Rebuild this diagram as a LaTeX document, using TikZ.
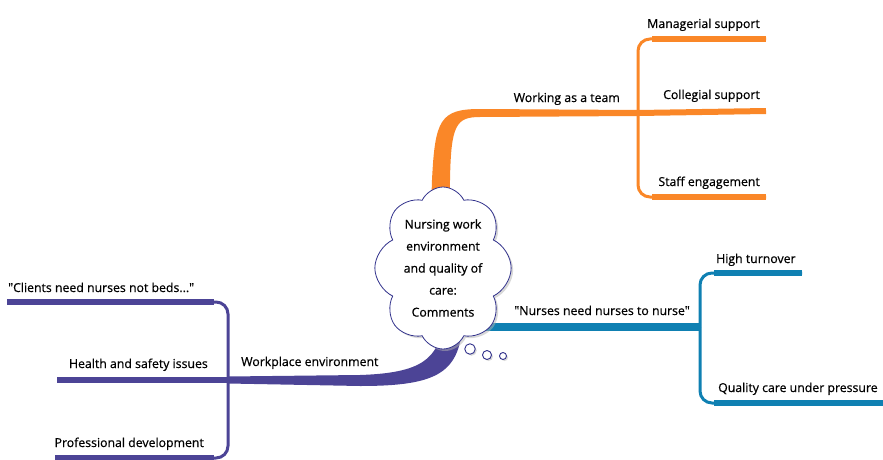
\documentclass[tikz,border=0pt]{standalone}
\usepackage{fontspec}
\setmainfont{Open Sans}
\newfontfamily\mapfont{Open Sans}[FakeBold=0.6]
\usetikzlibrary{shapes.symbols,shadows,backgrounds}
\definecolor{teamorange}{RGB}{250,135,40}
\definecolor{nurseblue}{RGB}{15,128,178}
\definecolor{workpurple}{RGB}{76,68,150}
\definecolor{cloudline}{RGB}{50,50,140}
\tikzset{
  lab/.style={font=\mapfont\fontsize{12.3}{14}\selectfont, inner sep=0pt},
  twig/.style={line width=3pt, rounded corners=12pt},
  leaf/.style={line width=6pt},
  bubble/.style={circle, draw=cloudline, line width=0.9pt, fill=white, inner sep=0pt,
    drop shadow={fill=gray!60, shadow xshift=1.5pt, shadow yshift=-1.5pt}}
}
\begin{document}
\begin{tikzpicture}[x=1pt,y=-1pt]
    \useasboundingbox (0,0) rectangle (883,460);
    \node (core) at (443,268) [cloud, draw=cloudline, fill=white, line width=0.8pt,
      cloud puffs=8, cloud puff arc=130, cloud ignores aspect, inner sep=0pt,
      minimum width=124pt, minimum height=162pt, align=center,
      font=\mapfont\fontsize{12.3}{22}\selectfont,
      drop shadow={fill=gray!60, shadow xshift=2pt, shadow yshift=-2pt}]
      {Nursing work\\environment\\and quality of\\care:\\Comments};
    \node[bubble, minimum size=10.5pt] (ba) at (470,349) {};
    \node[bubble, minimum size=9pt] (bb) at (487,355) {};
    \node[bubble, minimum size=7pt] (bc) at (503,356) {};
    \coordinate (team) at (638,113);
    \coordinate (nurse) at (700,327);
    \coordinate (work) at (228,380);
    \coordinate (mgr) at (766,39);
    \coordinate (col) at (766,111);
    \coordinate (staff) at (766,197);
    \coordinate (high) at (802,273);
    \coordinate (qual) at (890,403);
    \coordinate (clie) at (7,302);
    \coordinate (hsi) at (57,380);
    \coordinate (prof) at (55,458);
    \begin{scope}[on background layer]
    \fill[teamorange] (430,240) -- (432,180) .. controls (435,120) and (440,109) .. (480,109)
      -- (638,110) -- (638,116) -- (480,117) .. controls (456,117) and (451,125) .. (450,180)
      -- (449,240) -- cycle;
    \draw[line width=8pt, nurseblue] (core.center |- nurse) -- (nurse);
    \fill[workpurple] (228,376.5) -- (360,375) .. controls (420,373) and (440,360) .. (443,320)
      -- (463,320) .. controls (460,372) and (440,386) .. (360,386) -- (228,383.5) -- cycle;
    \end{scope}
    \draw[twig, teamorange] (team) |- (mgr);
    \draw[leaf, teamorange] ([xshift=14pt]team |- mgr) -- (mgr);
    \draw[leaf, teamorange] (team) -- (col);
    \draw[twig, teamorange] (team) |- (staff);
    \draw[leaf, teamorange] ([xshift=14pt]team |- staff) -- (staff);
    \draw[twig, nurseblue] (nurse) |- (high);
    \draw[leaf, nurseblue] ([xshift=14pt]nurse |- high) -- (high);
    \draw[twig, nurseblue] (nurse) |- (qual);
    \draw[leaf, nurseblue] ([xshift=14pt]nurse |- qual) -- (qual);
    \draw[twig, workpurple] (work) |- (clie);
    \draw[leaf, workpurple] ([xshift=-14pt]work |- clie) -- (clie);
    \draw[leaf, workpurple] (work) -- (hsi);
    \draw[twig, workpurple] (work) |- (prof);
    \draw[leaf, workpurple] ([xshift=-14pt]work |- prof) -- (prof);
    \node[lab, anchor=base east] (lmgr) at (760,28) {Managerial support};
    \node[lab, anchor=base east] (lcol) at (760,99) {Collegial support};
    \node[lab, anchor=base east] (lstaff) at (760,186) {Staff engagement};
    \node[lab, anchor=base east] (lteam) at (620,102) {Working as a team};
    \node[lab, anchor=base west] (lhigh) at (716,263) {High turnover};
    \node[lab, anchor=base west] (lqual) at (718,392) {Quality care under pressure};
    \node[lab, anchor=base east] (lnurse) at (690,315) {\textquotedbl Nurses need nurses to nurse\textquotedbl};
    \node[lab, anchor=base west] (lclie) at (8,292) {\textquotedbl Clients need nurses not beds...\textquotedbl};
    \node[lab, anchor=base east] (lhsi) at (208,368) {Health and safety issues};
    \node[lab, anchor=base west] (lwork) at (241,366) {Workplace environment};
    \node[lab, anchor=base east] (lprof) at (204,447) {Professional development};
\end{tikzpicture}
\end{document}
